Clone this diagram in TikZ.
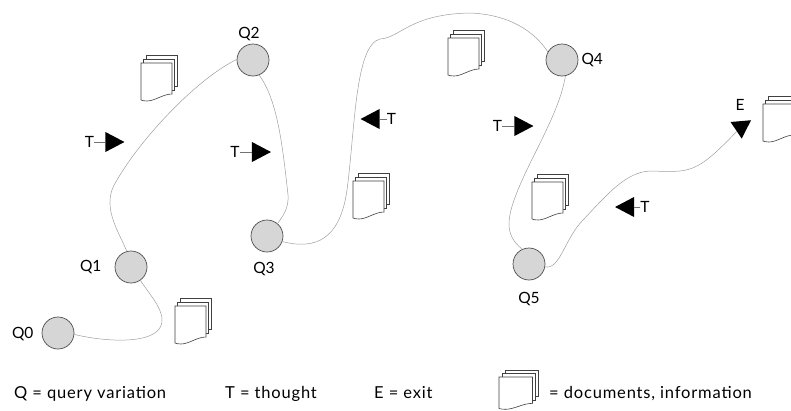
\documentclass[tikz,border=0pt]{standalone}
\usepackage{fontspec}
\setmainfont{Lato}
\newfontfamily\legendfont[LetterSpace=5]{Lato}
\usetikzlibrary{
  positioning,
  shapes.geometric,
}
\definecolor{querygray}{HTML}{D6D6D6}
\tikzset{
  query node/.style = {
    circle,
    draw=black!70,
    fill=querygray,
    line width=0.7pt,
    minimum size=32pt,
    inner sep=0pt
  },
  label text/.style = {
    inner sep=0pt,
    font=\fontsize{15.5}{18}\selectfont
  },
  legend text/.style = {
    inner sep=0pt,
    anchor=base west,
    font=\legendfont\fontsize{16.5}{18}\selectfont
  },
  path line/.style = {
    draw=black!38,
    line width=0.5pt
  },
  stub line/.style = {
    draw=black!55,
    line width=0.5pt
  },
  thought head/.style = {
    isosceles triangle,
    isosceles triangle stretches,
    fill=black,
    minimum width=20pt,
    minimum height=19pt,
    inner sep=0pt,
    shape border rotate=#1
  },
  sheet/.style = {
    draw=black!75,
    fill=white,
    line width=0.6pt
  },
  pics/docs/.style = {
    code = {
      \draw[sheet] (5.5,-8) rectangle (36,23);
      \draw[sheet] (2.75,-4) rectangle (33.5,27);
      \draw[sheet] (0,0) -- (31,0) -- (31,31)
        .. controls (22,31) and (14,38) .. (6,38)
        .. controls (3,38) and (1,37.5) .. (0,37) -- cycle;
    }
  },
}

\begin{document}
\begin{tikzpicture}[x=1pt, y=-1pt]
  \clip (0,0) rectangle (791,410);
  %% query nodes
  \node (q0) [query node] at (58,333) {};
  \node (q1) [query node] at (131,267) {};
  \node (q2) [query node] at (253,60) {};
  \node (q3) [query node] at (267,236) {};
  \node (q4) [query node] at (562,60) {};
  \node (q5) [query node] at (529,264) {};
  \node (l0) [label text, left=8pt of q0, yshift=-1pt] {Q0};
  \node (l1) [label text, left=13pt of q1] {Q1};
  \node (l2) [label text, above=3pt of q2, xshift=-4pt] {Q2};
  \node (l3) [label text, below=10pt of q3, xshift=-3pt] {Q3};
  \node (l4) [label text, right=3pt of q4] {Q4};
  \node (l5) [label text, below=12pt of q5] {Q5};
  %% thought arrows
  \node (a1) [thought head=0] at (111.5,142) {};
  \node (a2) [thought head=0] at (258,152) {};
  \node (a3) [thought head=180] at (373.5,119) {};
  \node (a4) [thought head=0] at (520.5,126) {};
  \node (a5) [thought head=180] at (628,207) {};
  \node (ae) [thought head=0, rotate=34, minimum width=20pt, minimum height=18pt] at (741,127) {};
  \node (t1) [label text, left=11pt of a1] {T};
  \node (t2) [label text, left=12pt of a2] {T};
  \node (t3) [label text, right=7pt of a3] {T};
  \node (t4) [label text, left=12pt of a4] {T};
  \node (t5) [label text, right=6pt of a5] {T};
  \node (e) [label text] at (740,105) {E};
  \draw[stub line] (t1) -- (a1);
  \draw[stub line] (t2) -- (a2);
  \draw[stub line] (t3) -- (a3);
  \draw[stub line] (t4) -- (a4);
  \draw[stub line] (t5) -- (a5);
  %% curves between nodes
  \draw[path line] (q0.-5) .. controls (110,343) and (165,345) .. (162,318)
    .. controls (160,305) and (150,295) .. (q1.-55);
  \draw[path line] (q1.105) .. controls (118,230) and (100,205) .. (117,180)
    .. controls (140,140) and (195,80) .. (q2.178);
  \draw[path line] (q2.-68) .. controls (278,100) and (283,150) .. (288,195)
    .. controls (289,208) and (283,216) .. (q3.50);
  \draw[path line] (q3.-20) .. controls (315,250) and (340,240) .. (347,190)
    .. controls (355,130) and (355,45) .. (380,39)
    .. controls (400,38) and (410,14) .. (470,13)
    .. controls (500,14) and (530,25) .. (q4.150);
  \draw[path line] (q4.-78) .. controls (560,110) and (535,150) .. (520,185)
    .. controls (505,220) and (505,235) .. (q5.115);
  \draw[path line] (q5.-10) .. controls (560,270) and (565,238) .. (583,220)
    .. controls (605,197) and (625,172) .. (650,171)
    .. controls (690,172) and (695,175) .. (ae);
  %% document stacks
  \pic (d0) at (175,306) {docs};
  \pic (d1) at (141,63) {docs};
  \pic (d2) at (448,38) {docs};
  \pic (d3) at (353,181) {docs};
  \pic (d4) at (532,182) {docs};
  \pic (d5) at (763,104) {docs};
  \pic (d6) [xscale=1.08, yscale=0.85] at (499,377) {docs};
  %% legend
  \node (k1) [legend text] at (14,398) {Q = query variation};
  \node (k2) [legend text] at (225,398) {T = thought};
  \node (k3) [legend text] at (374,398) {E = exit};
  \node (k4) [legend text] at (549,398) {= documents, information};
\end{tikzpicture}
\end{document}
